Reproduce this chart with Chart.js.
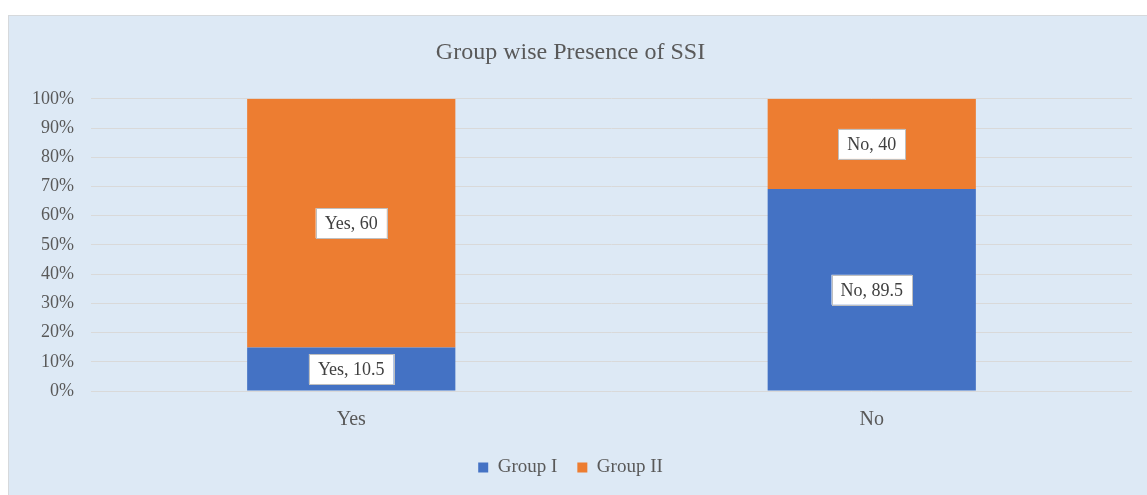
<!DOCTYPE html>
<html>
<head>
<meta charset="utf-8">
<script src="https://cdn.jsdelivr.net/npm/chart.js@4/dist/chart.umd.min.js"></script>
<style>
    html, body { margin: 0; padding: 0; background: #ffffff; }
    #panel {
        position: absolute; left: 8px; top: 15px; width: 1139px; height: 480px;
        background: #dde9f5; border-top: 1px solid #d6d9dc; border-left: 1px solid #d6d9dc;
        box-sizing: border-box;
    }
    #chart { display: block; }
</style>
</head>
<body>
<div id="panel"><canvas id="chart" width="1138" height="479"></canvas></div>
<script>
const categories = ['Yes', 'No'];
const seriesNames = ['Group I', 'Group II'];
const groupOne = [10.5, 89.5];
const groupTwo = [60, 40];
const seriesColors = ['#4472c4', '#ed7d31'];
const yTicks = [0, 10, 20, 30, 40, 50, 60, 70, 80, 90, 100];

const serif = '"Liberation Serif", "Times New Roman", serif';
const textColor = '#595959';

// 100% stacked: each value as a share of its category total
const totals = categories.map((c, i) => groupOne[i] + groupTwo[i]);
const share = (arr) => arr.map((v, i) => v / totals[i] * 100);

const rawValues = [groupOne, groupTwo];

const boxLabels = {
    id: 'boxLabels',
    afterDatasetsDraw(chart) {
        const ctx = chart.ctx;
        ctx.save();
        ctx.font = '18px ' + serif;
        ctx.textAlign = 'center';
        ctx.textBaseline = 'middle';
        chart.data.datasets.forEach((ds, di) => {
            chart.getDatasetMeta(di).data.forEach((bar, i) => {
                const text = categories[i] + ', ' + rawValues[di][i];
                const w = ctx.measureText(text).width + 18;
                const h = 30;
                const cx = bar.x;
                const cy = (bar.y + bar.base) / 2;
                ctx.fillStyle = '#ffffff';
                ctx.fillRect(cx - w / 2, cy - h / 2, w, h);
                ctx.strokeStyle = '#bfbfbf';
                ctx.lineWidth = 1;
                ctx.strokeRect(Math.round(cx - w / 2) + 0.5, Math.round(cy - h / 2) + 0.5, Math.round(w), h);
                ctx.fillStyle = '#404040';
                ctx.fillText(text, cx, cy + 1);
            });
        });
        ctx.restore();
    }
};

new Chart(document.getElementById('chart'), {
    type: 'bar',
    data: {
        labels: categories,
        datasets: [
            { label: seriesNames[0], data: share(groupOne), backgroundColor: seriesColors[0] },
            { label: seriesNames[1], data: share(groupTwo), backgroundColor: seriesColors[1] }
        ]
    },
    options: {
        responsive: false,
        animation: false,
        layout: { padding: { left: 0, right: 15, top: 0, bottom: 8 } },
        datasets: { bar: { categoryPercentage: 1, barPercentage: 0.4 } },
        scales: {
            x: {
                stacked: true,
                grid: { display: false, drawTicks: false },
                border: { display: false },
                ticks: { color: textColor, font: { family: serif, size: 20 }, padding: 17 },
                afterFit: (s) => { s.height = 47; }
            },
            y: {
                stacked: true,
                min: 0,
                max: 100,
                afterBuildTicks: (s) => { s.ticks = yTicks.map((v) => ({ value: v })); },
                grid: { color: '#d9d9d9', drawTicks: false },
                border: { display: false },
                ticks: {
                    color: textColor,
                    font: { family: serif, size: 18 },
                    padding: 17,
                    callback: (v) => v + '%'
                },
                afterFit: (s) => { s.width = 82; }
            }
        },
        plugins: {
            title: {
                display: true,
                text: 'Group wise Presence of SSI',
                color: textColor,
                font: { family: serif, size: 24, weight: 'normal' },
                padding: { top: 22, bottom: 32 }
            },
            legend: {
                position: 'bottom',
                labels: {
                    color: textColor,
                    font: { family: serif, size: 19 },
                    boxWidth: 10,
                    boxHeight: 10,
                    padding: 20
                }
            },
            tooltip: { enabled: false }
        }
    },
    plugins: [boxLabels]
});
</script>
</body>
</html>
